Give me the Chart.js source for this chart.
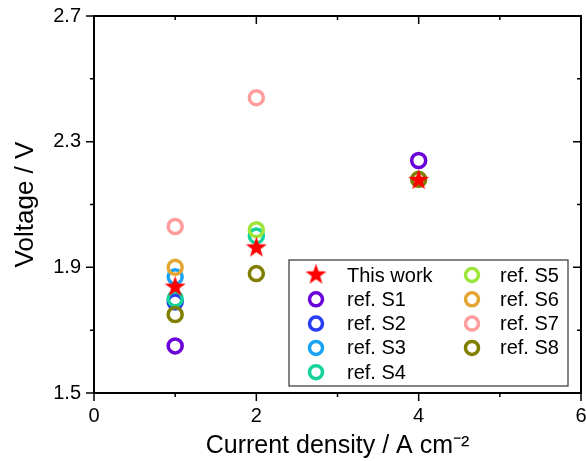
<!DOCTYPE html>
<html>
<head>
<meta charset="utf-8">
<script src="https://cdn.jsdelivr.net/npm/chart.js@4.4.0/dist/chart.umd.min.js"></script>
<style>
  html, body { margin: 0; padding: 0; background: #fff; }
  #wrap { width: 586px; height: 461px; }
</style>
</head>
<body>
<div id="wrap"><canvas id="chart" width="586" height="461"></canvas></div>
<script>
// data: [current density, voltage]
const seriesNames = ['This work', 'ref. S1', 'ref. S2', 'ref. S3', 'ref. S4', 'ref. S5', 'ref. S6', 'ref. S7', 'ref. S8'];
const thisWork = [[1, 1.84], [2, 1.965], [4, 2.18]];
const refS1 = [[1, 1.65], [4, 2.24]];
const refS2 = [[1, 1.79]];
const refS3 = [[1, 1.87]];
const refS4 = [[1, 1.80], [2, 2.00]];
const refS5 = [[2, 2.02]];
const refS6 = [[1, 1.90]];
const refS7 = [[1, 2.03], [2, 2.44]];
const refS8 = [[1, 1.75], [2, 1.88], [4, 2.18]];
const xTicks = [0, 2, 4, 6];
const yTicks = [1.5, 1.9, 2.3, 2.7];

const allSeries = [thisWork, refS1, refS2, refS3, refS4, refS5, refS6, refS7, refS8];
const colors = ['#ff0000', '#6a00d8', '#2a3cf5', '#1aa3f5', '#12d49a', '#9ee53a', '#e3a632', '#ff9c9c', '#7f7f00'];
const FONT = '"Liberation Sans", Arial, sans-serif';

// filled five point star used as point style
function makeStar(size, color) {
    const c = document.createElement('canvas');
    c.width = size;
    c.height = size;
    const g = c.getContext('2d');
    const cx = size / 2, cy = size / 2 + 0.8;
    const ro = size / 2 - 0.5, ri = ro * 0.4;
    g.beginPath();
    for (let i = 0; i < 10; i++) {
        const r = i % 2 === 0 ? ro : ri;
        const a = -Math.PI / 2 + i * Math.PI / 5;
        const px = cx + r * Math.cos(a);
        const py = cy + r * Math.sin(a);
        if (i === 0) g.moveTo(px, py); else g.lineTo(px, py);
    }
    g.closePath();
    g.fillStyle = color;
    g.fill();
    return c;
}
const starImg = makeStar(23, colors[0]);

const datasets = allSeries.map((pts, i) => ({
    label: seriesNames[i],
    data: pts.map(p => ({ x: p[0], y: p[1] })),
    showLine: false,
    pointStyle: i === 0 ? starImg : 'circle',
    pointRadius: i === 0 ? 11 : 7,
    pointBorderWidth: 3.5,
    borderColor: colors[i],
    backgroundColor: 'rgba(0,0,0,0)',
    // star on top, later refs over earlier ones
    order: i === 0 ? 0 : 10 - i
}));

// box frame with origin-style ticks
const framePlugin = {
    id: 'frame',
    beforeDatasetsDraw(chart) {
        const { ctx, chartArea: a, scales } = chart;
        const xs = scales.x, ys = scales.y;
        ctx.save();
        ctx.strokeStyle = '#000';
        ctx.lineWidth = 2;
        ctx.strokeRect(a.left, a.top, a.right - a.left, a.bottom - a.top);
        ctx.lineWidth = 1.5;
        const xMinor = xTicks.slice(1).map((v, k) => (v + xTicks[k]) / 2);
        const yMinor = yTicks.slice(1).map((v, k) => (v + yTicks[k]) / 2);
        const tick = (list, len) => {
            list.forEach(v => {
                const px = xs.getPixelForValue(v);
                ctx.beginPath();
                ctx.moveTo(px, a.bottom); ctx.lineTo(px, a.bottom + len);
                ctx.moveTo(px, a.top); ctx.lineTo(px, a.top + len);
                ctx.stroke();
            });
        };
        const ytick = (list, len) => {
            list.forEach(v => {
                const py = ys.getPixelForValue(v);
                ctx.beginPath();
                ctx.moveTo(a.left, py); ctx.lineTo(a.left - len, py);
                ctx.moveTo(a.right, py); ctx.lineTo(a.right - len, py);
                ctx.stroke();
            });
        };
        tick(xTicks, 8);
        tick(xMinor, 4);
        ytick(yTicks, 8);
        ytick(yMinor, 4);
        ctx.restore();
    }
};

// two column legend inside the plot
const legendPlugin = {
    id: 'boxLegend',
    afterDatasetsDraw(chart) {
        const ctx = chart.ctx;
        const boxL = 289, boxT = 260, boxW = 279, boxH = 126;
        ctx.save();
        ctx.fillStyle = '#fff';
        ctx.fillRect(boxL, boxT, boxW, boxH);
        ctx.strokeStyle = '#333';
        ctx.lineWidth = 1.2;
        ctx.strokeRect(boxL, boxT, boxW, boxH);
        ctx.font = '20px ' + FONT;
        ctx.textBaseline = 'middle';
        ctx.fillStyle = '#000';
        chart.data.datasets.forEach((ds, i) => {
            const col = i < 5 ? 0 : 1;
            const row = i < 5 ? i : i - 5;
            const mx = col === 0 ? 316 : 472;
            const tx = col === 0 ? 347 : 500;
            const y = 275 + row * 24.3;
            if (i === 0) {
                ctx.drawImage(starImg, mx - 11.5, y - 12.5);
            } else {
                ctx.beginPath();
                ctx.arc(mx, y, 6.5, 0, Math.PI * 2);
                ctx.strokeStyle = ds.borderColor;
                ctx.lineWidth = 3.5;
                ctx.stroke();
            }
            ctx.fillStyle = '#000';
            ctx.fillText(ds.label, tx, y + 1);
        });
        ctx.restore();
    }
};

// drop the label overhang padding so the plot box sits where the figure has it
const noOverhang = s => {
    s.paddingLeft = 0;
    s.paddingRight = 0;
    s.paddingTop = 0;
    s.paddingBottom = 0;
};

new Chart(document.getElementById('chart'), {
    type: 'scatter',
    data: { datasets: datasets },
    options: {
        responsive: false,
        animation: false,
        layout: { autoPadding: false, padding: { top: 16, right: 5, left: 0, bottom: 0 } },
        plugins: {
            legend: { display: false },
            tooltip: { enabled: false }
        },
        scales: {
            x: {
                type: 'linear',
                min: 0,
                max: 6,
                afterBuildTicks: s => { s.ticks = xTicks.map(v => ({ value: v })); },
                ticks: {
                    color: '#000',
                    font: { family: FONT, size: 20 },
                    padding: 11,
                    callback: v => String(v)
                },
                grid: { display: false, drawTicks: false },
                border: { display: false },
                title: {
                    display: true,
                    text: 'Current density / A cm\u207B\u00B2',
                    color: '#000',
                    font: { family: FONT, size: 25 },
                    padding: { top: 0, bottom: 0 }
                },
                afterFit: s => { s.height = 68; noOverhang(s); }
            },
            y: {
                type: 'linear',
                min: 1.5,
                max: 2.7,
                afterBuildTicks: s => { s.ticks = yTicks.map(v => ({ value: v })); },
                ticks: {
                    color: '#000',
                    font: { family: FONT, size: 20 },
                    padding: 13,
                    callback: v => v.toFixed(1)
                },
                grid: { display: false, drawTicks: false },
                border: { display: false },
                title: {
                    display: true,
                    text: 'Voltage / V',
                    color: '#000',
                    font: { family: FONT, size: 26 },
                    padding: { top: 10, bottom: 0 }
                },
                afterFit: s => { s.width = 94; noOverhang(s); }
            }
        }
    },
    plugins: [framePlugin, legendPlugin]
});
</script>
</body>
</html>
